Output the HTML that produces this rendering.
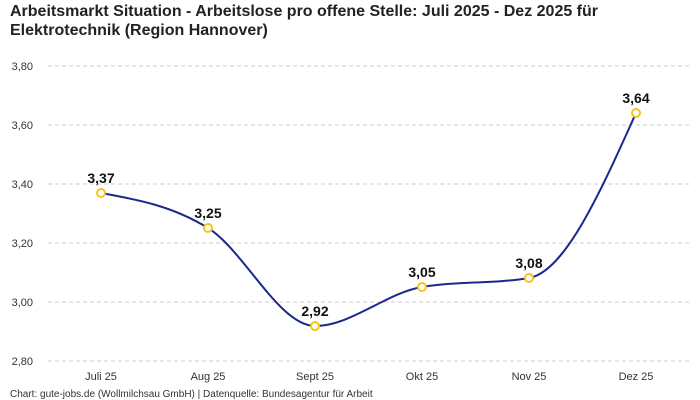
<!DOCTYPE html>
<html><head><meta charset="utf-8"><style>
html,body{margin:0;padding:0;background:#fff;}
svg{display:block;font-family:"Liberation Sans",sans-serif;}
</style></head><body>
<svg width="700" height="400" viewBox="0 0 700 400">
<rect width="700" height="400" fill="#fff"/>
<text x="10" y="16" font-size="16" font-weight="bold" fill="#222">Arbeitsmarkt Situation - Arbeitslose pro offene Stelle: Juli 2025 - Dez 2025 für</text>
<text x="10" y="35" font-size="16" font-weight="bold" fill="#222">Elektrotechnik (Region Hannover)</text>
<g stroke="#ccc" stroke-dasharray="4,3" stroke-width="1">
<line x1="48" x2="690" y1="66" y2="66"/>
<line x1="48" x2="690" y1="125" y2="125"/>
<line x1="48" x2="690" y1="184" y2="184"/>
<line x1="48" x2="690" y1="243" y2="243"/>
<line x1="48" x2="690" y1="302" y2="302"/>
<line x1="48" x2="690" y1="361" y2="361"/>
</g>
<g font-size="11" fill="#333" text-anchor="end">
<text x="33" y="70">3,80</text>
<text x="33" y="129">3,60</text>
<text x="33" y="188">3,40</text>
<text x="33" y="247">3,20</text>
<text x="33" y="306">3,00</text>
<text x="33" y="365">2,80</text>
</g>
<g font-size="11" fill="#333" text-anchor="middle">
<text x="101" y="380">Juli 25</text>
<text x="208" y="380">Aug 25</text>
<text x="315" y="380">Sept 25</text>
<text x="422" y="380">Okt 25</text>
<text x="529" y="380">Nov 25</text>
<text x="636" y="380">Dez 25</text>
</g>
<path d="M101,193 C136.7,199.4 172.3,205.9 208,228 C243.7,250.1 279.3,326 315,326 C350.7,326 386.3,293 422,287 C457.7,281 493.3,284 529,278 C564.7,272 600.3,192.5 636,113" fill="none" stroke="#1a2a8c" stroke-width="2"/>
<g fill="#fff" stroke="#f5c518" stroke-width="2">
<circle cx="101" cy="193" r="4"/><circle cx="208" cy="228" r="4"/><circle cx="315" cy="326" r="4"/>
<circle cx="422" cy="287" r="4"/><circle cx="529" cy="278" r="4"/><circle cx="636" cy="113" r="4"/>
</g>
<g font-size="14" font-weight="bold" fill="#111" text-anchor="middle">
<text x="101" y="183">3,37</text><text x="208" y="218">3,25</text><text x="315" y="316">2,92</text>
<text x="422" y="277">3,05</text><text x="529" y="268">3,08</text><text x="636" y="103">3,64</text>
</g>
<text x="10" y="397" font-size="10" fill="#333">Chart: gute-jobs.de (Wollmilchsau GmbH) | Datenquelle: Bundesagentur für Arbeit</text>
</svg>
</body></html>
